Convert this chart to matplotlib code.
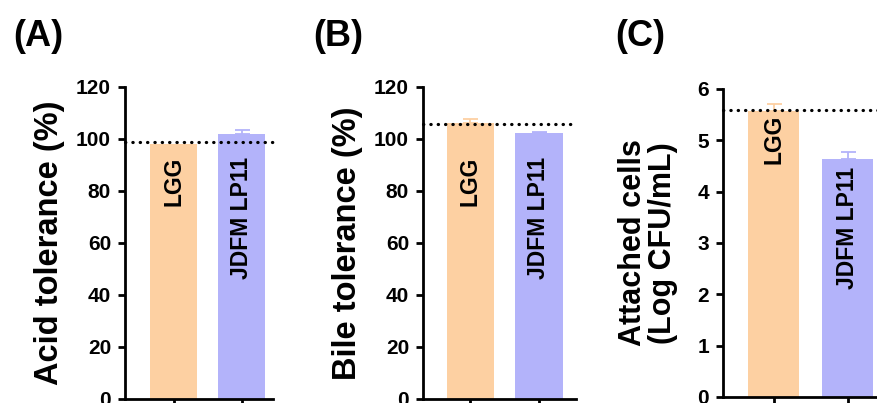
import matplotlib
matplotlib.use("Agg")
import matplotlib.pyplot as plt

plt.rcParams['font.family'] = ['Liberation Sans', 'DejaVu Sans']
plt.rcParams['font.weight'] = 'bold'

strains = ["LGG", "JDFM LP11"]
colors = ["#FDD0A2", "#B3B3FA"]

acid_vals = [98.0, 101.9]
acid_err = [0.0, 1.4]
acid_ref = 98.9

bile_vals = [106.0, 102.2]
bile_err = [1.5, 0.5]
bile_ref = 105.6

attach_vals = [5.58, 4.63]
attach_err = [0.13, 0.14]
attach_ref = 5.59

panel_letters = ["(A)", "(B)", "(C)"]
ylabels = ["Acid tolerance (%)", "Bile tolerance (%)", "Attached cells\n(Log CFU/mL)"]
ylims = [(0, 120), (0, 120), (0, 6)]
yticks = [[0, 20, 40, 60, 80, 100, 120], [0, 20, 40, 60, 80, 100, 120], [0, 1, 2, 3, 4, 5, 6]]

W, H = 878, 403
fig = plt.figure(figsize=(W / 100, H / 100), dpi=100)

# axes boxes in pixels: left, right, bottom(y from top), top(y from top)
boxes = [(125, 273, 398.5, 87), (423, 576, 398.5, 87), (723, 885, 397, 89)]
xlims = [(-0.72, 1.46), (-0.69, 1.54), (-0.68, 1.50)]
label_y = [[93, 93], [93, 93], [5.50, 4.48]]
label_fs = [23.5, 23.5, 22]
label_gap = [60, 60, 45]

datasets = [(acid_vals, acid_err, acid_ref), (bile_vals, bile_err, bile_ref),
            (attach_vals, attach_err, attach_ref)]

for i, ((vals, errs, ref), box) in enumerate(zip(datasets, boxes)):
    l, r, b, t = box
    ax = fig.add_axes([l / W, (H - b) / H, (r - l) / W, (b - t) / H])
    x = [0, 1]
    ax.bar(x, vals, width=0.69, color=colors, zorder=2)
    for xi, v, e, c in zip(x, vals, errs, colors):
        if e > 0:
            ax.errorbar(xi, v, yerr=[[0], [e]], fmt='none', ecolor=c,
                        elinewidth=1.3, capsize=5.4, capthick=1.3, zorder=1)
    ax.plot(xlims[i], [ref, ref], color='black', lw=2.3,
            linestyle=(0, (0.1, 2.2)), dash_capstyle='round', zorder=3,
            clip_on=False)
    for xi, s, ly in zip(x, strains, label_y[i]):
        ax.text(xi, ly, s, rotation=90, ha='center', va='top',
                fontsize=16.5, fontweight='bold', color='black', zorder=4)
    ax.set_xlim(*xlims[i])
    ax.set_ylim(*ylims[i])
    ax.set_yticks(yticks[i])
    ax.set_xticks(x)
    ax.set_xticklabels([])
    for s in ['top', 'right']:
        ax.spines[s].set_visible(False)
    for s in ['left', 'bottom']:
        ax.spines[s].set_linewidth(2)
    ax.tick_params(axis='both', width=2, length=5, labelsize=15, pad=5)
    for lab in ax.get_yticklabels():
        lab.set_fontweight('bold')
    ax.set_ylabel(ylabels[i], fontsize=label_fs[i], fontweight='bold',
                  linespacing=1.0)
    ax.yaxis.set_label_coords(-label_gap[i] / (r - l), 0.5)
    fig.text([13, 313, 615][i] / W, 1 - 37 / H, panel_letters[i],
             fontsize=26, fontweight='bold', ha='left', va='center')

fig.savefig("out.png", dpi=100)
